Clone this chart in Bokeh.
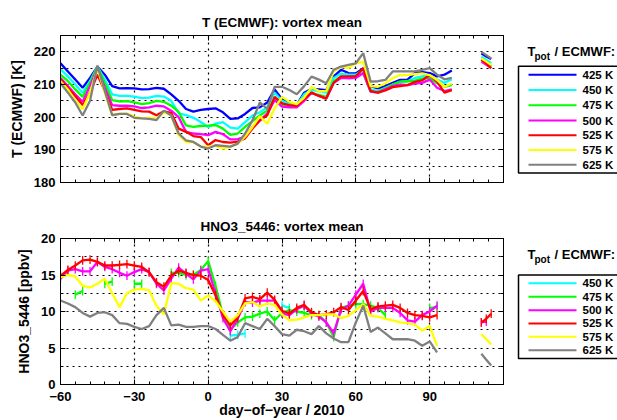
import numpy as np
from bokeh.plotting import figure
from bokeh.layouts import column, row
from bokeh.models import FixedTicker, LinearAxis, Range1d
from bokeh.core.properties import value
from bokeh.embed import file_html
from bokeh.resources import INLINE

nan = float("nan")

# ---------------- data ----------------
days = [-60, -57, -54, -51, -48, -45, -42, -39, -36, -33,
        -30, -27, -24, -21, -18, -15, -12, -9, -6, -3,
        0, 3, 6, 9, 12, 15, 18, 21, 24, 27,
        30, 33, 36, 39, 42, 45, 48, 51, 54, 57,
        60, 63, 66, 69, 72, 75, 78, 81, 84, 87,
        90, 93, 96, 99,
        105, 111, 113, 115]

levels = ["425 K", "450 K", "475 K", "500 K", "525 K", "575 K", "625 K"]
colors = ["#0000ff", "#00ffff", "#00ff00", "#ff00ff", "#ff0000", "#ffff00", "#808080"]

# T (ECMWF) vortex mean [K]
T_425 = [216.5, 214.0, 211.5, 209.0, 212.0, 215.5, 213.0, 209.5, 208.8, 208.9,
         208.8, 208.5, 208.6, 209.0, 208.7, 207.0, 205.0, 202.5, 201.7, 202.2,
         202.5, 202.7, 201.5, 199.5, 199.6, 201.0, 202.8, 203.0, 204.5, 208.5,
         205.5, 204.5, 203.7, 207.5, 208.7, 208.5, 208.3, 212.5, 214.5, 213.5,
         213.4, 215.0, 209.5, 208.8, 209.5, 210.5, 211.4, 211.5, 213.5, 213.8,
         213.5, 212.5, 213.0, 214.3,
         nan, 219.5, 218.6, 217.8]
T_450 = [214.7, 212.5, 210.0, 207.5, 211.0, 215.5, 211.5, 207.0, 206.5, 206.5,
         206.3, 205.8, 206.0, 206.5, 206.3, 205.0, 201.2, 200.6, 199.8, 198.5,
         197.0, 198.0, 198.5, 196.8, 196.5, 198.5, 200.5, 201.5, 203.0, 207.5,
         205.0, 204.0, 203.7, 207.0, 208.3, 208.0, 207.5, 212.0, 213.3, 213.0,
         213.0, 214.5, 208.5, 208.0, 209.0, 210.0, 210.8, 211.0, 212.0, 212.5,
         212.8, 211.5, 210.5, 211.6,
         nan, 218.5, 217.5, 216.5]
T_475 = [213.0, 211.0, 208.5, 206.2, 210.5, 215.5, 210.5, 205.2, 204.8, 204.9,
         204.5, 204.0, 204.3, 205.0, 204.7, 203.5, 201.6, 197.5, 197.0, 197.3,
         197.4, 197.6, 196.5, 194.6, 195.0, 197.0, 198.8, 200.5, 202.0, 205.7,
         203.7, 203.2, 203.5, 206.0, 207.3, 206.8, 206.2, 211.0, 212.4, 212.3,
         212.5, 213.4, 207.8, 207.8, 208.8, 210.0, 210.9, 211.0, 211.2, 211.8,
         212.0, 210.4, 209.3, 209.8,
         nan, 217.5, 216.5, 215.5]
T_500 = [212.0, 209.5, 207.0, 204.7, 209.5, 215.0, 209.0, 203.7, 203.5, 203.5,
         203.3, 202.8, 203.0, 203.5, 203.3, 202.0, 200.0, 195.5, 195.0, 194.8,
         194.5, 195.5, 194.8, 193.2, 193.3, 194.0, 197.0, 199.0, 201.1, 205.2,
         203.2, 203.0, 203.0, 205.0, 207.5, 206.5, 205.7, 210.5, 212.0, 211.9,
         212.0, 213.5, 207.8, 207.5, 208.5, 209.5, 210.0, 209.8, 210.3, 210.5,
         211.5, 209.0, 208.0, 208.5,
         nan, 217.0, 216.0, 215.0]
T_525 = [211.6, 209.0, 206.5, 203.7, 207.5, 213.0, 208.0, 202.2, 202.5, 202.7,
         202.2, 201.8, 201.7, 200.6, 201.8, 201.3, 196.5, 195.5, 194.2, 193.9,
         191.4, 193.0, 192.4, 192.2, 192.5, 193.5, 196.5, 199.0, 200.6, 206.2,
         204.2, 203.7, 203.5, 205.5, 207.5, 206.5, 205.7, 210.5, 212.5, 212.5,
         212.5, 215.0, 208.0, 207.5, 208.2, 209.2, 209.5, 209.8, 210.8, 211.3,
         212.9, 210.9, 207.5, 208.3,
         nan, 217.7, 216.4, 215.0]
T_575 = [211.0, 208.5, 205.0, 202.5, 207.5, 215.0, 207.5, 200.6, 201.0, 201.1,
         200.2, 199.6, 199.8, 199.6, 201.5, 200.5, 194.5, 192.4, 192.4, 191.0,
         191.0, 191.3, 190.4, 190.9, 191.9, 194.0, 197.0, 200.3, 198.0, 202.7,
         206.2, 204.7, 204.0, 206.0, 209.2, 208.0, 208.0, 214.0, 215.5, 215.0,
         216.5, 217.0, 209.5, 209.3, 210.3, 212.0, 212.9, 212.9, 213.2, 213.4,
         212.9, 211.4, 209.3, 210.3,
         nan, 218.0, 217.0, 216.0]
T_625 = [210.4, 207.5, 204.5, 200.5, 205.0, 215.8, 208.0, 200.6, 201.0, 201.0,
         199.8, 199.6, 199.5, 199.1, 202.0, 200.5, 195.0, 192.9, 192.4, 191.0,
         190.4, 191.4, 191.2, 191.0, 191.9, 195.0, 199.0, 204.5, 202.5, 209.3,
         209.3, 208.3, 207.0, 209.5, 212.4, 211.5, 210.4, 214.5, 215.5, 216.0,
         216.5, 219.6, 210.9, 211.0, 211.4, 214.0, 214.0, 214.0, 214.0, 214.5,
         215.0, 213.0, 211.6, 212.0,
         nan, 220.0, 219.0, 218.0]

# HNO3_5446 vortex mean [ppbv]
H_450 = [nan, nan, nan, nan, nan, nan, nan, nan, nan, nan,
         nan, nan, nan, nan, nan, nan, nan, nan, nan, nan,
         nan, nan, nan, 6.7, 6.8, 7.0, nan, nan, nan, nan,
         10.8, 10.5, nan, nan, nan, nan, nan, nan, nan, nan,
         nan, nan, nan, nan, nan, nan, nan, nan, nan, nan,
         nan, nan, nan, nan,
         nan, nan, nan, nan]
H_475 = [nan, nan, 12.3, 12.8, nan, nan, 13.8, 14.1, nan, nan,
         13.8, 13.8, nan, nan, nan, 15.3, 15.3, 15.0, 15.0, 15.7,
         16.9, 13.5, 9.5, 7.5, 8.5, 9.2, 9.3, 9.7, 10.0, 8.8,
         9.8, 10.2, 10.0, 9.8, 9.5, 9.5, 8.5, 6.5, 10.5, 10.8,
         11.0, 11.0, 10.8, 10.5, 9.5, nan, nan, nan, nan, nan,
         10.5, 10.6, nan, nan,
         nan, nan, nan, nan]
H_500 = [14.5, 15.6, 15.8, 15.5, 15.5, 16.8, 16.1, 15.8, 15.3, 14.9,
         15.4, 15.8, 15.4, 13.8, 12.9, 14.5, 16.0, 15.2, 14.4, 15.6,
         15.8, 12.5, 9.1, 7.3, 9.0, 11.3, 11.2, 11.5, 11.5, 11.5,
         9.7, 9.5, 10.3, 10.8, 9.7, 9.3, 8.5, 7.0, 10.3, 10.8,
         12.3, 13.8, 10.0, 10.5, 10.5, 10.5, 9.8, 8.8, 8.6, 9.5,
         10.0, 10.8, nan, nan,
         nan, 8.5, 8.6, nan]
H_525 = [14.9, 15.7, 16.3, 17.0, 17.1, 16.8, 16.3, 16.3, 16.4, 16.5,
         16.3, 16.1, 15.4, 14.0, 13.4, 14.9, 15.6, 15.3, 15.0, 14.9,
         14.3, 12.2, 9.6, 8.1, 9.2, 11.8, 12.0, 11.7, 12.6, 11.6,
         10.1, 9.7, 10.5, 10.9, 9.9, 9.5, 9.6, 9.9, 10.6, 10.2,
         11.5, 12.8, 10.3, 10.7, 10.8, 10.9, 10.5, 9.8, 9.5, 9.4,
         9.2, 9.5, nan, nan,
         nan, 8.5, 9.0, 9.7]
H_575 = [14.7, 15.0, 14.8, 13.5, 13.3, 13.8, 14.5, 12.5, 10.6, 12.5,
         13.0, 13.1, 12.9, 10.8, 9.6, 13.9, 13.8, 13.2, 13.0, 11.5,
         12.2, 11.4, 10.0, 8.6, 9.5, 11.1, 11.3, 10.7, 11.1, 10.9,
         9.6, 8.8, 8.9, 9.2, 9.5, 9.5, 9.6, 9.6, 9.1, 9.4,
         10.2, 11.0, 9.4, 9.3, 9.0, 8.8, 8.5, 8.4, 8.2, 7.4,
         8.0, 5.3, nan, nan,
         nan, 6.9, 6.2, 5.5]
H_625 = [11.5, 11.1, 10.6, 9.8, 9.3, 9.8, 9.9, 9.5, 8.4, 8.3,
         7.9, 7.6, 8.0, 9.5, 10.5, 8.1, 8.2, 7.9, 7.9, 8.0,
         8.0, 7.6, 6.8, 6.0, 6.5, 8.4, 8.0, 7.6, 9.0, 8.0,
         6.9, 6.7, 7.5, 7.3, 6.9, 8.0, 7.0, 6.3, 5.8, 5.8,
         8.5, 10.8, 7.2, 7.8, 7.0, 6.2, 6.2, 6.2, 6.0, 5.3,
         5.9, 4.4, nan, nan,
         nan, 4.2, 3.4, 2.6]
H_err = 0.6  # half length of the vertical error ticks [ppbv]

x_ticks = [-60, -30, 0, 30, 60, 90]
x_minor = list(range(-54, 120, 6))
x_tick_labels = {-60: "\u221260", -30: "\u221230"}

T_ticks = [180, 190, 200, 210, 220]
T_minor = [185, 195, 205, 215, 225]
H_ticks = [0, 5, 10, 15, 20]
H_minor = [2.5, 7.5, 12.5, 17.5]

FONT = "Liberation Sans"
x = np.array(days, dtype=float)


def style_axis(ax, ticks, show_labels=True, standoff=5):
    ax.axis_line_color = "black"
    ax.axis_line_width = 1
    ax.major_tick_in = 5
    ax.major_tick_out = 0
    ax.minor_tick_in = 3
    ax.minor_tick_out = 0
    ax.major_tick_line_color = "black"
    ax.minor_tick_line_color = "black"
    ax.major_label_text_font = FONT
    ax.major_label_text_font_style = "bold"
    ax.major_label_text_color = "black"
    ax.major_label_text_font_size = "13px"
    ax.major_label_standoff = standoff if show_labels else 0
    if not show_labels:
        ax.major_label_overrides = {t: "" for t in ticks}
    ax.axis_label_text_font = FONT
    ax.axis_label_text_font_style = "bold"
    ax.axis_label_text_font_size = "14px"
    ax.axis_label_text_color = "black"
    ax.axis_label_standoff = 6


def make_panel(height, yr, yticks, yminor, ylabel, title, border_top, border_bottom,
               show_x, title_standoff, xlabel=None):
    p = figure(width=511, height=height, x_range=Range1d(-60, 120), y_range=Range1d(*yr),
               output_backend="svg", toolbar_location=None,
               min_border_left=60, min_border_right=8,
               min_border_top=border_top, min_border_bottom=border_bottom)
    p.outline_line_color = "black"
    p.outline_line_width = 1
    xt = FixedTicker(ticks=x_ticks, minor_ticks=x_minor)
    yt = FixedTicker(ticks=yticks, minor_ticks=yminor)
    bottom_ax = p.below[0]
    left_ax = p.left[0]
    bottom_ax.ticker = xt
    left_ax.ticker = yt
    style_axis(bottom_ax, x_ticks, show_labels=show_x, standoff=7)
    style_axis(left_ax, yticks, show_labels=True, standoff=5)
    if show_x:
        bottom_ax.major_label_overrides = x_tick_labels
    if xlabel:
        bottom_ax.axis_label = xlabel
        bottom_ax.axis_label_standoff = -2
    left_ax.axis_label = ylabel
    ra = LinearAxis(ticker=yt)
    style_axis(ra, yticks, show_labels=False)
    p.add_layout(ra, "right")
    ta = LinearAxis(ticker=xt)
    style_axis(ta, x_ticks, show_labels=False)
    p.add_layout(ta, "above")
    p.title.text = title
    p.title.align = "center"
    p.title.text_font = FONT
    p.title.text_font_style = "bold"
    p.title.text_font_size = "13.5px"
    p.title.text_color = "black"
    p.title.standoff = title_standoff
    p.xgrid.grid_line_color = "black"
    p.xgrid.grid_line_dash = "2 4"
    p.xgrid.grid_line_width = 1.2
    p.ygrid.grid_line_color = "black"
    p.ygrid.grid_line_dash = "2 4"
    p.ygrid.grid_line_width = 1.2
    p.ygrid.minor_grid_line_color = "black"
    p.ygrid.minor_grid_line_dash = "2 4"
    p.ygrid.minor_grid_line_width = 1.2
    return p


# ---------------- top panel ----------------
p1 = make_panel(200, (180, 225), T_ticks, T_minor, "T (ECMWF) [K]",
                "T (ECMWF): vortex mean", 35, 18, False, 11)
for vals, c in zip([T_425, T_450, T_475, T_500, T_525, T_575, T_625], colors):
    p1.line(x, np.array(vals, dtype=float), line_color=c, line_width=2.3)

# ---------------- bottom panel ----------------
p2 = make_panel(220, (0, 20), H_ticks, H_minor, "HNO3_5446 [ppbv]",
                "HNO3_5446: vortex mean", 38, 36, True, 10,
                xlabel="day\u2212of\u2212year / 2010")
H_series = [H_450, H_475, H_500, H_525, H_575, H_625]
for i, (vals, c) in enumerate(zip(H_series, colors[1:])):
    v = np.array(vals, dtype=float)
    p2.line(x, v, line_color=c, line_width=2.3)
    if i < 4:
        m = np.isfinite(v)
        p2.segment(x0=x[m], y0=v[m] - H_err, x1=x[m], y1=v[m] + H_err,
                   line_color=c, line_width=1.3)


# ---------------- legends ----------------
def make_legend(height, box_top, box_bottom, ys, labs, cols, title_y):
    L = figure(width=106, height=height, x_range=Range1d(0, 106), y_range=Range1d(0, height),
               output_backend="svg", toolbar_location=None, min_border=0)
    L.axis.visible = False
    L.grid.visible = False
    L.outline_line_color = None
    L.quad(left=7, right=140, top=box_top, bottom=box_bottom, fill_color="white",
           line_color="black", line_width=1.5)
    L.segment(x0=[17] * len(ys), y0=ys, x1=[65] * len(ys), y1=ys, line_color=cols, line_width=2)
    L.text(x=[71] * len(ys), y=ys, text=labs, text_baseline="middle", text_align="left",
           text_font=value(FONT), text_font_style="bold", text_font_size="11.5px", text_color="black")
    L.text(x=[16], y=[title_y], text=["T"], text_baseline="middle", text_font=value(FONT),
           text_font_style="bold", text_font_size="13px", text_color="black")
    L.text(x=[23], y=[title_y - 7], text=["pot"], text_baseline="middle", text_font=value(FONT),
           text_font_style="bold", text_font_size="10px", text_color="black")
    L.text(x=[43], y=[title_y], text=["/ ECMWF:"], text_baseline="middle", text_font=value(FONT),
           text_font_style="bold", text_font_size="13px", text_color="black")
    return L


leg1 = make_legend(200, 158, 13, [146.7, 125.7, 105, 84.3, 64.3, 44.3, 24], levels, colors, 178.5)
leg2 = make_legend(220, 165, 39, [152.7, 132.3, 112, 92, 72, 51.7], levels[1:], colors[1:], 196)

layout = column(row(p1, leg1), row(p2, leg2))
open("out.html", "w").write(file_html(layout, INLINE))
